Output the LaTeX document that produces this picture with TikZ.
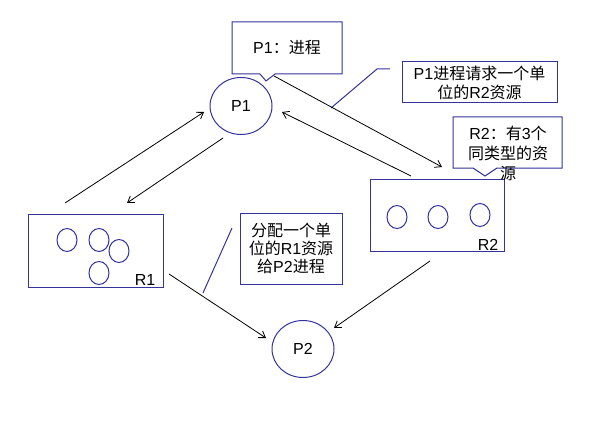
\documentclass[tikz,border=0pt]{standalone}
\usepackage{fontspec}
\setmainfont{Liberation Sans}
\newfontfamily\cjk{Noto Sans CJK SC}
\usetikzlibrary{arrows.meta,shapes.geometric}
\definecolor{nodeblue}{HTML}{333399}
\begin{document}
\begin{tikzpicture}[x=1pt,y=-1pt,
  outline/.style={draw=nodeblue, line width=1pt},
  proc/.style={outline, ellipse, minimum width=62pt, minimum height=57pt, inner sep=0pt, font=\fontsize{16}{19}\selectfont},
  unitres/.style={outline, ellipse, minimum width=20pt, minimum height=23pt, inner sep=0pt},
  resbox/.style={outline, rectangle, inner sep=0pt},
  arr/.style={draw=black, line width=0.8pt, -{Straight Barb[length=6pt,width=8pt]}},
  txt/.style={font=\fontsize{16}{19}\selectfont, align=center, inner sep=0pt},
  leader/.style={draw=nodeblue, line width=1pt}
]
\useasboundingbox[fill=white] (0,0) rectangle (603,428);

% processes
\node[proc] (P1) at (241,106) {P1};
\node[proc] (P2) at (303,349) {P2};

% resources
\node[resbox, minimum width=135pt, minimum height=73pt] (R1) at (95.5,250.5) {};
\node[unitres] (u11) at (67,240) {};
\node[unitres] (u12) at (99,240) {};
\node[unitres] (u13) at (119,251) {};
\node[unitres] (u14) at (99,273) {};
\node[txt, anchor=center] (R1l) at (145,280) {R1};

\node[resbox, minimum width=134pt, minimum height=72pt] (R2) at (437,215) {};
\node[unitres] (u21) at (397,217) {};
\node[unitres] (u22) at (438,217) {};
\node[unitres] (u23) at (480,215) {};
\node[txt, anchor=center] (R2l) at (488,245) {R2};

% callout P1
\draw[outline] (232,22) -- (342,22) -- (342,74) -- (275,74) -- (266,81) -- (260,74) -- (232,74) -- cycle;
\node[txt] (c1) at (287,48) {P1{\cjk ：进程}};

% callout R2
\draw[outline] (453,117) -- (562,117) -- (562,168) -- (497,168) -- (485,176) -- (473,168) -- (453,168) -- cycle;
\node[txt, font=\fontsize{16}{20}\selectfont] (c2) at (508,153) {R2{\cjk ：有}3{\cjk 个}\\{\cjk 同类型的资}\\{\cjk 源}};

% callout request
\node[resbox, minimum width=155pt, minimum height=41pt, txt, draw=nodeblue, line width=1pt] (c3) at (479.5,82.5) {P1{\cjk 进程请求一个单}\\{\cjk 位的}R2{\cjk 资源}};
\coordinate (l3a) at (390,69);
\coordinate (l3b) at (377,69);
\coordinate (l3c) at (331,108);
\draw[leader] (l3a) -- (l3b) -- (l3c);

% callout distribute
\node[resbox, minimum width=102pt, minimum height=71pt, txt, draw=nodeblue, line width=1pt, font=\fontsize{16}{18}\selectfont] (c4) at (291,248.5) {{\cjk 分配一个单}\\{\cjk 位的}R1{\cjk 资源}\\{\cjk 给}P2{\cjk 进程}};
\coordinate (l4a) at (232,228);
\coordinate (l4b) at (203,293);
\draw[leader] (l4a) -- (l4b);

% arrows
\coordinate (a1s) at (274,76);  \coordinate (a1e) at (442,167);
\coordinate (a2s) at (411,176); \coordinate (a2e) at (282,112);
\coordinate (a3s) at (65,203);  \coordinate (a3e) at (204,112);
\coordinate (a4s) at (223,138); \coordinate (a4e) at (127,203);
\coordinate (a5s) at (169,274); \coordinate (a5e) at (266,338);
\coordinate (a6s) at (430,261); \coordinate (a6e) at (334,328);
\draw[arr] (a1s) -- (a1e);
\draw[arr] (a2s) -- (a2e);
\draw[arr] (a3s) -- (a3e);
\draw[arr] (a4s) -- (a4e);
\draw[arr] (a5s) -- (a5e);
\draw[arr] (a6s) -- (a6e);
\end{tikzpicture}
\end{document}
